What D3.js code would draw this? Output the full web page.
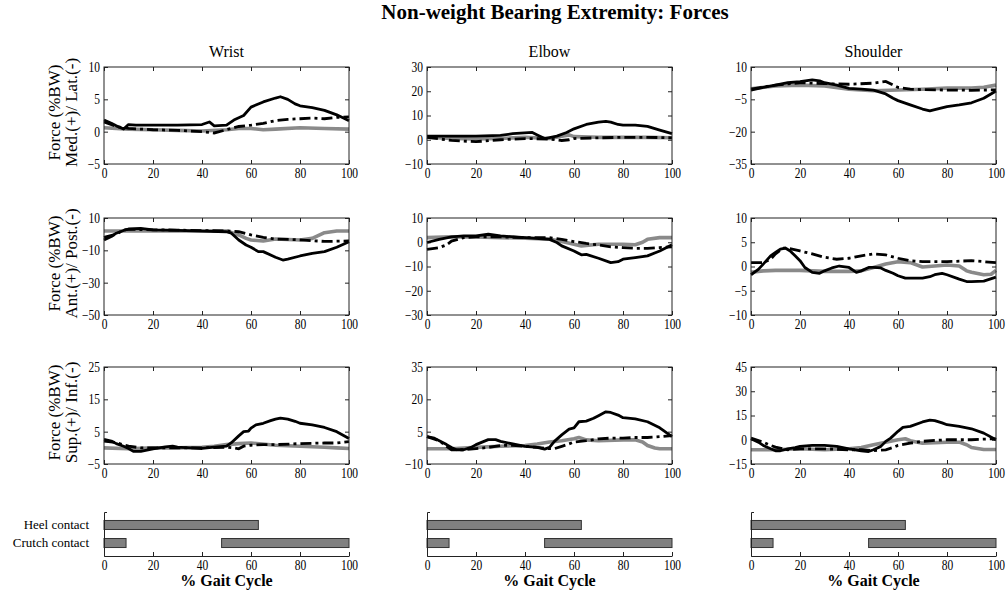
<!DOCTYPE html>
<meta charset="utf-8">
<title>Non-weight Bearing Extremity: Forces</title>
<style>
body { margin: 0; background: #fff; }
svg text { font-family: "Liberation Serif", "Times New Roman", serif; fill: #000; }
.tick text { font-size: 14px; font-family: "Liberation Serif", serif; }
.domain, .tick line { stroke: #222; }
.frame { fill: none; stroke: #222; stroke-width: 1px; }
.solid { fill: none; stroke: #000; stroke-width: 2.8px; stroke-linejoin: round; }
.gray { fill: none; stroke: #8a8a8a; stroke-width: 3.6px; stroke-linejoin: round; }
.dashdot { fill: none; stroke: #000; stroke-width: 2.8px; stroke-dasharray: 11,4,3,4; }
.bar { fill: #808080; stroke: #333; stroke-width: 1px; }
</style>
<body>
<script src="https://d3js.org/d3.v7.min.js"></script>
<script>

// joints (columns) and force components (rows)
var joints = ["Wrist", "Elbow", "Shoulder"];
var yLabelTop = "Force (%BW)";
var components = ["Med.(+)/ Lat.(-)", "Ant.(+)/ Post.(-)", "Sup.(+)/ Inf.(-)"];

// tick labels
var gaitTicks = [0, 20, 40, 60, 80, 100];
var ticksWristML = [-5, 0, 5, 10];
var ticksElbowML = [-10, 0, 10, 20, 30];
var ticksShoulderML = [-35, -20, -5, 10];
var ticksWristAP = [-50, -30, -10, 10];
var ticksElbowAP = [-30, -20, -10, 0, 10];
var ticksShoulderAP = [-10, -5, 0, 5, 10];
var ticksWristSI = [-5, 5, 15, 25];
var ticksElbowSI = [-10, 5, 20, 35];
var ticksShoulderSI = [-15, 0, 15, 30, 45];

// series: [% gait cycle, force %BW]
var wristML_black = [[0,1.8],[3,1.3],[5,0.9],[8,0.4],[10,1.1],[13,1.0],[20,1.0],[30,1.0],[40,1.1],[43,1.5],[45,0.9],[50,1.0],[53,1.8],[57,2.5],[60,3.8],[65,4.6],[70,5.2],[72,5.4],[75,5.0],[78,4.3],[80,4.0],[85,3.7],[90,3.3],[95,2.6],[100,1.7]];
var wristML_gray = [[0,0.6],[10,0.4],[20,0.3],[30,0.2],[40,0.1],[50,0.3],[55,0.5],[60,0.5],[65,0.3],[70,0.4],[80,0.6],[90,0.5],[100,0.4]];
var wristML_dash = [[0,1.5],[5,0.8],[10,0.5],[15,0.4],[20,0.3],[30,0.2],[40,0],[45,-0.2],[50,0.3],[55,0.8],[60,1.0],[65,1.3],[70,1.7],[75,1.9],[80,2.0],[85,2.1],[90,2.0],[95,2.2],[100,2.3]];

var elbowML_black = [[0,1.5],[10,1.5],[20,1.5],[30,1.8],[35,2.5],[43,3.0],[45,2.0],[48,0.5],[53,1.5],[57,3],[60,4.5],[65,6.3],[70,7.3],[73,7.6],[75,7.3],[78,6.3],[80,6.0],[85,6.0],[90,5.5],[95,4.0],[100,2.5]];
var elbowML_gray = [[0,1],[10,0.5],[20,0.3],[30,0.5],[40,1],[50,0.5],[55,1.5],[58,2],[60,1.3],[70,1],[80,1],[90,1],[100,0.8]];
var elbowML_dash = [[0,1],[10,-0.3],[20,-0.8],[30,0],[40,0.5],[50,0.3],[55,-0.3],[58,0],[60,0.5],[70,0.8],[80,1.0],[90,1.0],[100,0.8]];

var shoulderML_black = [[0,-0.7],[5,0.6],[10,1.6],[15,2.7],[20,3.2],[25,4.0],[28,3.6],[30,2.7],[35,1.6],[40,0.1],[45,-0.3],[50,-0.7],[55,-2.5],[58,-4.5],[60,-5.6],[65,-7.6],[70,-9.5],[73,-10.4],[75,-9.8],[80,-8.4],[85,-7.6],[90,-6.6],[95,-4.5],[100,-1.1]];
var shoulderML_gray = [[0,-0.1],[10,1.2],[20,1.6],[30,1.2],[40,-0.3],[50,-1.0],[60,-0.7],[70,-0.3],[80,0.2],[90,0.2],[95,0.6],[100,1.6]];
var shoulderML_dash = [[0,-0.3],[10,1.6],[20,2.7],[30,2.3],[40,2.0],[50,2.5],[55,3.3],[60,0.5],[65,-0.3],[70,-0.5],[80,-0.7],[90,-0.8],[100,-0.6]];

var wristAP_black = [[0,-3.6],[3,-1.5],[5,0.6],[8,2.3],[10,3.2],[15,3.6],[20,2.7],[30,2.3],[40,1.9],[50,1.5],[52,0.6],[55,-3.6],[58,-6.7],[60,-8.1],[63,-10.8],[65,-10.8],[70,-14.3],[73,-16],[75,-15.4],[80,-13.5],[85,-11.9],[90,-10.8],[95,-8.1],[100,-4.7]];
var wristAP_gray = [[0,2],[10,2],[20,2],[30,2],[40,2],[50,2],[55,-0.5],[58,-2.6],[60,-3.6],[65,-4.2],[70,-3.0],[80,-3.6],[85,-2.6],[90,0.9],[95,2],[100,2]];
var wristAP_dash = [[0,-2],[5,0],[8,2.5],[10,3],[20,2.7],[30,2.5],[40,2.2],[50,2.0],[55,1.5],[60,-0.5],[65,-2],[70,-3],[80,-3.5],[90,-4.5],[100,-4.2]];

var elbowAP_black = [[0,-0.1],[5,1.2],[10,2.2],[15,2.6],[20,2.6],[25,3.3],[30,2.6],[40,1.9],[50,1.2],[53,-0.1],[55,-1.5],[60,-3.6],[63,-5.2],[65,-5.0],[70,-6.6],[75,-8.4],[78,-8.0],[80,-7.0],[85,-6.3],[90,-5.6],[95,-3.6],[100,-1.0]];
var elbowAP_gray = [[0,1.9],[10,2.2],[20,2.2],[30,1.9],[40,1.7],[50,1.3],[55,0.3],[60,-0.8],[63,-1.5],[70,-0.8],[80,-0.8],[85,-1.0],[88,0],[90,1.2],[95,1.9],[100,1.9]];
var elbowAP_dash = [[0,-2.9],[5,-2.2],[8,-1.1],[10,0.5],[15,1.9],[20,2.2],[30,2.2],[40,1.9],[50,1.9],[55,1.2],[60,0.3],[65,-0.5],[70,-1.1],[75,-1.9],[80,-2.2],[85,-2.5],[90,-2.5],[95,-2.2],[100,-1.9]];

var shoulderAP_black = [[0,-1.7],[3,-0.6],[5,0.5],[8,2.2],[10,2.9],[12,3.6],[14,3.8],[16,3.2],[18,2.2],[20,1.2],[22,-0.2],[25,-1.2],[28,-1.4],[30,-0.9],[33,-0.3],[36,0.1],[40,-0.2],[43,-1.2],[45,-0.9],[48,-0.2],[50,-0.2],[53,-0.3],[55,-0.8],[58,-1.4],[60,-1.9],[63,-2.4],[70,-2.4],[73,-2.1],[75,-1.7],[78,-1.4],[80,-1.7],[85,-2.6],[88,-3.1],[90,-3.1],[95,-3.0],[100,-2.2]];
var shoulderAP_gray = [[0,-1.2],[5,-0.9],[10,-0.8],[20,-0.8],[30,-1.0],[40,-1.0],[45,-0.9],[50,-0.2],[55,0.5],[60,1.0],[65,0.8],[70,-0.1],[75,0.1],[80,0.3],[85,0.1],[88,-0.9],[90,-1.2],[95,-1.7],[98,-1.6],[100,-0.8]];
var shoulderAP_dash = [[0,0.8],[5,0.8],[8,1.5],[10,2.6],[13,3.8],[15,3.8],[20,3.2],[25,2.6],[30,1.9],[35,1.5],[40,1.7],[45,2.2],[50,2.6],[55,2.4],[60,1.7],[65,1.2],[70,1.0],[80,1.0],[85,1.1],[90,1.2],[95,1.0],[100,0.8]];

var wristSI_black = [[0,2.6],[3,2.1],[5,1.3],[8,0.5],[10,-0.2],[12,-1.1],[15,-1.1],[20,-0.3],[25,0.3],[28,0.5],[30,0.2],[35,0],[40,-0.2],[45,0.2],[50,0.5],[52,1.6],[55,3.7],[57,5],[59,5.2],[60,6.1],[62,7.1],[65,7.6],[68,8.4],[70,8.9],[72,9.2],[75,8.9],[78,8.2],[80,7.6],[85,7.1],[90,6.3],[95,5],[100,2.9]];
var wristSI_gray = [[0,0],[10,-0.3],[20,0],[30,0],[40,0.2],[45,0.5],[50,1.0],[55,1.3],[60,1.5],[70,0.8],[80,0.5],[90,0.2],[95,0],[100,-0.2]];
var wristSI_dash = [[0,2.1],[5,1.6],[10,0.5],[15,0],[20,0],[30,0],[40,0],[50,0.2],[53,0],[55,-0.3],[57,0.5],[60,0.8],[65,1.0],[70,1.0],[80,1.3],[90,1.5],[95,1.5],[100,1.9]];

var elbowSI_black = [[0,2.7],[3,2.0],[5,0.8],[8,-1.0],[10,-2.3],[12,-3.4],[15,-3.4],[18,-2.3],[20,-1.0],[25,1.3],[28,1.3],[30,0.5],[35,-0.7],[40,-1.8],[45,-2.3],[48,-3.1],[50,-2.3],[52,0.5],[55,3.5],[58,6.2],[60,6.8],[62,9.6],[65,9.9],[68,11.2],[70,12.4],[73,14.2],[75,13.9],[78,12.7],[80,11.5],[85,10.9],[90,9.6],[95,6.8],[100,2.7]];
var elbowSI_gray = [[0,-2.9],[10,-2.9],[15,-2.6],[20,-2.3],[30,-1.8],[40,-1.4],[45,-0.7],[50,0.2],[55,0.8],[60,1.7],[62,2.3],[65,1.2],[70,0.8],[80,1.2],[85,1.2],[88,0.2],[90,-1.4],[93,-2.6],[95,-2.9],[100,-2.9]];
var elbowSI_dash = [[0,2.7],[5,0.8],[8,-1.8],[10,-3.4],[15,-3.4],[20,-2.9],[25,-2.3],[30,-1.4],[35,-1.4],[40,-1.8],[45,-2.3],[50,-2.9],[52,-2.9],[55,-1.8],[58,-0.7],[60,0.2],[65,0.8],[70,1.7],[75,2.0],[80,2.0],[85,2.3],[90,2.3],[95,2.7],[100,3.2]];

var shoulderSI_black = [[0,0.6],[3,-1.5],[5,-3.5],[8,-5.6],[10,-6.8],[12,-6.8],[15,-5.6],[18,-4.8],[20,-4.1],[25,-3.5],[30,-3.5],[35,-4.1],[40,-5.6],[45,-6.8],[48,-7.3],[50,-6.2],[53,-4.1],[55,-1.0],[57,1.0],[60,5.2],[62,7.7],[65,8.3],[70,11],[73,12.2],[75,11.8],[78,10.4],[80,9.3],[85,8.3],[90,6.8],[95,4.1],[100,0]];
var shoulderSI_gray = [[0,-6.2],[10,-6.2],[20,-5.6],[30,-6.2],[40,-5.6],[45,-4.8],[50,-3.1],[55,-1.5],[60,0],[63,0.6],[65,-0.6],[70,-2.1],[80,-1.5],[85,-1.5],[88,-3.1],[90,-4.8],[95,-6.0],[100,-6.0]];
var shoulderSI_dash = [[0,1.0],[5,-1.5],[8,-3.5],[10,-4.5],[15,-6.2],[20,-5.6],[30,-5.6],[40,-6.2],[45,-6.2],[50,-6.8],[55,-6.2],[58,-4.8],[60,-3.5],[65,-2.1],[70,-1.0],[75,-0.4],[80,0],[90,0],[95,0.4],[100,0.6]];

// contact phases: [start, end] in % gait cycle
var contactLabels = ["Heel contact", "Crutch contact"];
var heelContact = [[0, 63]];
var crutchContact = [[0, 9], [48, 100]];

var panels = [
  {row: 0, col: 0, ticks: ticksWristML, gray: wristML_gray, dash: wristML_dash, black: wristML_black},
  {row: 0, col: 1, ticks: ticksElbowML, gray: elbowML_gray, dash: elbowML_dash, black: elbowML_black},
  {row: 0, col: 2, ticks: ticksShoulderML, gray: shoulderML_gray, dash: shoulderML_dash, black: shoulderML_black},
  {row: 1, col: 0, ticks: ticksWristAP, gray: wristAP_gray, dash: wristAP_dash, black: wristAP_black},
  {row: 1, col: 1, ticks: ticksElbowAP, gray: elbowAP_gray, dash: elbowAP_dash, black: elbowAP_black},
  {row: 1, col: 2, ticks: ticksShoulderAP, gray: shoulderAP_gray, dash: shoulderAP_dash, black: shoulderAP_black},
  {row: 2, col: 0, ticks: ticksWristSI, gray: wristSI_gray, dash: wristSI_dash, black: wristSI_black},
  {row: 2, col: 1, ticks: ticksElbowSI, gray: elbowSI_gray, dash: elbowSI_dash, black: elbowSI_black},
  {row: 2, col: 2, ticks: ticksShoulderSI, gray: shoulderSI_gray, dash: shoulderSI_dash, black: shoulderSI_black}
];

var width = 1007, height = 592;

var svg = d3.select("body").append("svg")
    .attr("width", width)
    .attr("height", height);

var colLeft = [104, 427, 751], plotW = 245;
var rowTop = [67, 218, 367], plotH = 97;
var barTop = 512, barBottom = 556;

var x = d3.scaleLinear().domain([0, 100]).range([0, plotW]);

var line = d3.line()
    .x(function(d) { return x(d[0]); });

// narrow the tick digits like the original
function squeeze(sel) {
  sel.selectAll(".tick text").attr("transform", "scale(0.82,1)");
}

svg.append("text")
    .attr("x", 555).attr("y", 19)
    .attr("text-anchor", "middle")
    .style("font-size", "21px").style("font-weight", "bold")
    .text("Non-weight Bearing Extremity: Forces");

joints.forEach(function(j, i) {
  svg.append("text")
    .attr("x", colLeft[i] + plotW / 2).attr("y", 57)
    .attr("text-anchor", "middle")
    .style("font-size", "16px")
    .text(j);
});

components.forEach(function(c, i) {
  var cy = rowTop[i] + plotH / 2 - 3;
  svg.append("text")
    .attr("transform", "translate(60," + cy + ") rotate(-90)")
    .attr("text-anchor", "middle")
    .style("font-size", "17px")
    .text(yLabelTop);
  svg.append("text")
    .attr("transform", "translate(77," + cy + ") rotate(-90)")
    .attr("text-anchor", "middle")
    .style("font-size", "17px")
    .text(c);
});

panels.forEach(function(p) {
  var g = svg.append("g")
      .attr("transform", "translate(" + colLeft[p.col] + "," + rowTop[p.row] + ")");

  var y = d3.scaleLinear()
      .domain([p.ticks[0], p.ticks[p.ticks.length - 1]])
      .range([plotH, 0]);

  g.append("g")
      .attr("transform", "translate(0," + plotH + ")")
      .call(d3.axisBottom(x).tickValues(gaitTicks).tickSizeInner(-4).tickSizeOuter(0).tickPadding(4))
      .call(squeeze)
      .select(".domain").remove();

  g.append("g")
      .call(d3.axisLeft(y).tickValues(p.ticks).tickSizeInner(-4).tickSizeOuter(0).tickPadding(5))
      .call(squeeze)
      .select(".domain").remove();

  g.append("g")
      .call(d3.axisTop(x).tickValues(gaitTicks).tickSizeInner(-4).tickSizeOuter(0).tickFormat(""))
      .select(".domain").remove();

  g.append("g")
      .attr("transform", "translate(" + plotW + ",0)")
      .call(d3.axisRight(y).tickValues(p.ticks).tickSizeInner(-4).tickSizeOuter(0).tickFormat(""))
      .select(".domain").remove();

  line.y(function(d) { return y(d[1]); });

  g.append("path").datum(p.gray).attr("class", "gray").attr("d", line);
  g.append("path").datum(p.dash).attr("class", "dashdot").attr("d", line);
  g.append("path").datum(p.black).attr("class", "solid").attr("d", line);

  g.append("rect")
      .attr("class", "frame")
      .attr("width", plotW)
      .attr("height", plotH);
});

// contact bars under each column
var yBar = d3.scaleBand()
    .domain(contactLabels)
    .range([barTop, barBottom])
    .paddingInner(0.5)
    .paddingOuter(0.47);

var contacts = [heelContact, crutchContact];

joints.forEach(function(j, i) {
  var g = svg.append("g").attr("transform", "translate(" + colLeft[i] + ",0)");

  contacts.forEach(function(spans, k) {
    g.selectAll(null)
      .data(spans)
      .enter().append("rect")
        .attr("class", "bar")
        .attr("x", function(d) { return x(d[0]); })
        .attr("width", function(d) { return x(d[1]) - x(d[0]); })
        .attr("y", yBar(contactLabels[k]))
        .attr("height", yBar.bandwidth());
  });

  g.append("g")
      .call(d3.axisLeft(yBar).tickValues([]).tickSizeOuter(-3));

  g.append("g")
      .attr("transform", "translate(0," + barBottom + ")")
      .call(d3.axisBottom(x).tickValues(gaitTicks).tickSizeInner(-4).tickSizeOuter(0).tickPadding(4))
      .call(squeeze);

  g.append("text")
      .attr("x", plotW / 2).attr("y", 586)
      .attr("text-anchor", "middle")
      .style("font-size", "16px").style("font-weight", "bold")
      .text("% Gait Cycle");

  if (i === 0) {
    contactLabels.forEach(function(l) {
      g.append("text")
        .attr("x", -15)
        .attr("y", yBar(l) + yBar.bandwidth() / 2 + 4)
        .attr("text-anchor", "end")
        .style("font-size", "13px")
        .text(l);
    });
  }
});

</script>
</body>
</html>
